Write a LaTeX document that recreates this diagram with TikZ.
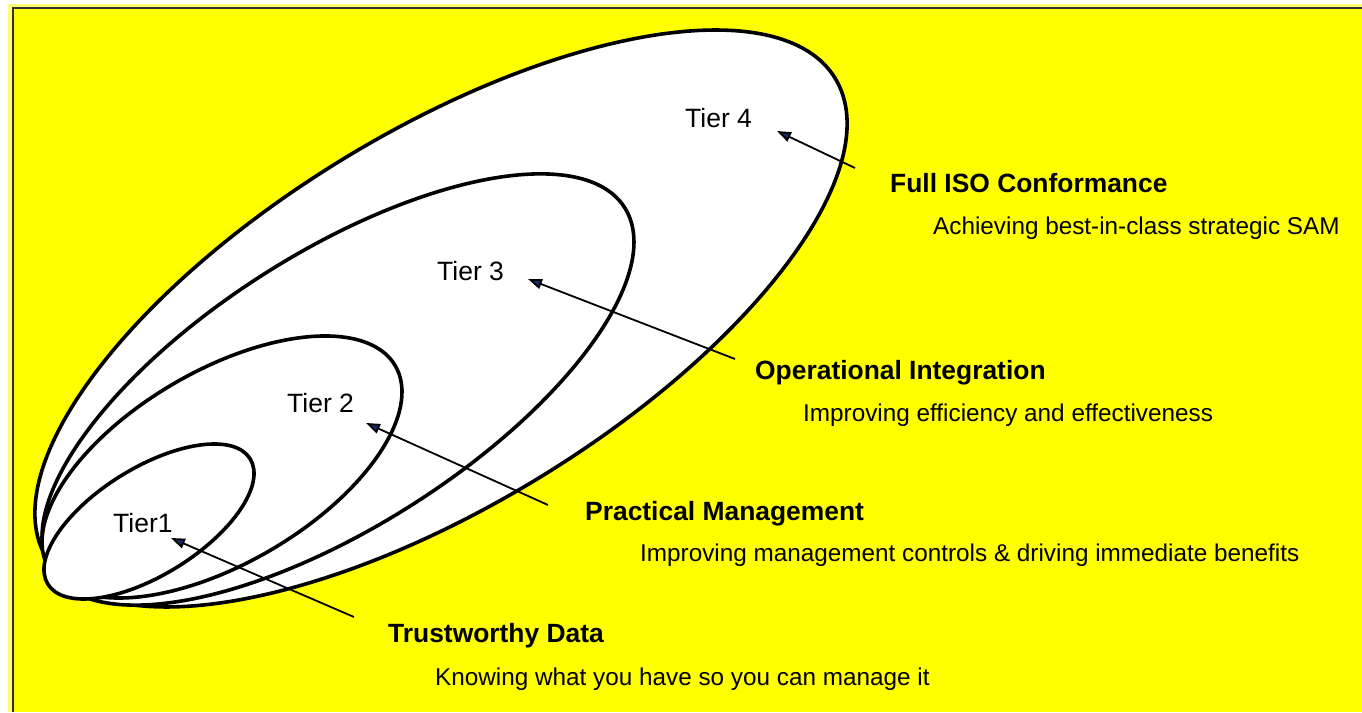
\documentclass[tikz,border=0pt]{standalone}
\usepackage{fontspec}
\setmainfont{Liberation Sans}
\usetikzlibrary{arrows.meta}
\definecolor{bgyellow}{HTML}{FFFF00}
\definecolor{headnavy}{HTML}{14286E}
\begin{document}
\begin{tikzpicture}[x=1pt,y=1pt,
  tier/.style={draw=black,line width=3.6pt,fill=white},
  tierlabel/.style={anchor=base west,inner sep=0pt,font=\fontsize{26.5}{30}\selectfont},
  heading/.style={anchor=base west,inner sep=0pt,font=\fontsize{26.4}{30}\selectfont\bfseries},
  desc/.style={anchor=base west,inner sep=0pt,font=\fontsize{24.3}{28}\selectfont},
  pointer/.style={draw=black,line width=1.8pt,-{Triangle[length=14pt,width=10pt,fill=headnavy]}}]
\useasboundingbox (0,0) rectangle (1362,712);
\fill[white] (0,0) rectangle (1362,712);
\fill[bgyellow!55] (8,0) rectangle (1362,708);
\fill[bgyellow] (13,0) rectangle (1362,704);
\draw[line width=2pt,black!80] (13,0) -- (13,704) -- (1362,704);

% tiers (largest first)
\draw[tier, rotate around={31.35:(441,393.5)}] (441,393.5) ellipse [x radius=461.6, y radius=187.1];
\draw[tier, rotate around={32.4:(338,322.5)}] (338,322.5) ellipse [x radius=339.5, y radius=137.1];
\draw[tier, rotate around={30.3:(222,245)}] (222,245) ellipse [x radius=200.7, y radius=96.3];
\draw[tier, rotate around={31.8:(149,190.5)}] (149,190.5) ellipse [x radius=119, y radius=53.6];

% tier labels
\node[tierlabel] (t4) at (685,584) {Tier 4};
\node[tierlabel] (t3) at (437,431) {Tier 3};
\node[tierlabel] (t2) at (287,299) {Tier 2};
\node[tierlabel] (t1) at (113,179) {Tier1};

% headings and descriptions
\node[heading] (h4) at (890,519) {Full ISO Conformance};
\node[desc] (d4) at (933,477) {Achieving best-in-class strategic SAM};
\node[heading] (h3) at (755,332) {Operational Integration};
\node[desc] (d3) at (803,290) {Improving efficiency and effectiveness};
\node[heading] (h2) at (585,191) {Practical Management};
\node[desc] (d2) at (640,150) {Improving management controls \& driving immediate benefits};
\node[heading] (h1) at (388,69) {Trustworthy Data};
\node[desc] (d1) at (435,27) {Knowing what you have so you can manage it};

% arrows
\coordinate (a4s) at (855,544);
\coordinate (a4e) at (777,581);
\coordinate (a3s) at (735,353);
\coordinate (a3e) at (528,433);
\coordinate (a2s) at (548,207);
\coordinate (a2e) at (366,289);
\coordinate (a1s) at (354,95);
\coordinate (a1e) at (171,174);
\draw[pointer] (a4s) -- (a4e);
\draw[pointer] (a3s) -- (a3e);
\draw[pointer] (a2s) -- (a2e);
\draw[pointer] (a1s) -- (a1e);
\end{tikzpicture}
\end{document}
